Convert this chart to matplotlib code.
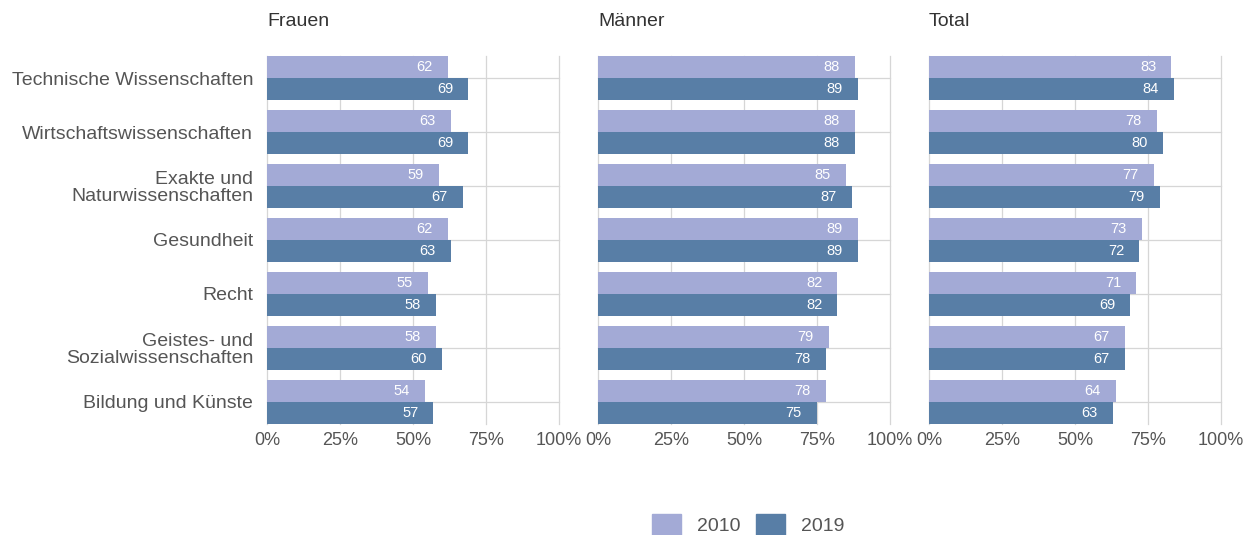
import matplotlib
matplotlib.use("Agg")
import matplotlib.pyplot as plt
from matplotlib.patches import Patch
import numpy as np

plt.rcParams['font.family'] = ['Liberation Sans', 'DejaVu Sans']

categories = ["Technische Wissenschaften", "Wirtschaftswissenschaften",
              "Exakte und\nNaturwissenschaften", "Gesundheit", "Recht",
              "Geistes- und\nSozialwissenschaften", "Bildung und Künste"]
panels = ["Frauen", "Männer", "Total"]
years = ["2010", "2019"]
frauen_2010 = [62, 63, 59, 62, 55, 58, 54]
frauen_2019 = [69, 69, 67, 63, 58, 60, 57]
maenner_2010 = [88, 88, 85, 89, 82, 79, 78]
maenner_2019 = [89, 88, 87, 89, 82, 78, 75]
total_2010 = [83, 78, 77, 73, 71, 67, 64]
total_2019 = [84, 80, 79, 72, 69, 67, 63]
xticks = [0, 25, 50, 75, 100]
xticklabels = ["0%", "25%", "50%", "75%", "100%"]

data = [(frauen_2010, frauen_2019), (maenner_2010, maenner_2019), (total_2010, total_2019)]
colors = ["#a3aad6", "#587ea6"]
grid_c = "#d6d6d6"
text_c = "#555555"

fig = plt.figure(figsize=(12.52, 5.35), dpi=100)
lefts = [267, 598, 929]
W, H = 1252, 535
h = 0.41
y = np.arange(len(categories))
for k, (name, (v10, v19)) in enumerate(zip(panels, data)):
    ax = fig.add_axes([lefts[k] / W, 1 - 424 / H, 292 / W, 368 / H])
    ax.set_xlim(0, 100)
    ax.set_ylim(len(categories) - 1 + h, -h)
    for xv in xticks:
        ax.axvline(xv, color=grid_c, lw=0.9, zorder=0, clip_on=False)
    for yv in y:
        ax.axhline(yv, color=grid_c, lw=0.9, zorder=0, clip_on=False)
    ax.barh(y - h / 2, v10, height=h - 0.01, color=colors[0], zorder=2)
    ax.barh(y + h / 2, v19, height=h - 0.01, color=colors[1], zorder=2)
    for yi, a, b in zip(y, v10, v19):
        ax.text(a - 5.2, yi - h / 2, str(a), color="white", ha="right", va="center", fontsize=10.5, zorder=3)
        ax.text(b - 5.2, yi + h / 2, str(b), color="white", ha="right", va="center", fontsize=10.5, zorder=3)
    for s in ax.spines.values():
        s.set_visible(False)
    ax.set_xticks(xticks)
    ax.set_xticklabels(xticklabels, fontsize=13, color=text_c)
    ax.tick_params(axis='both', length=0, pad=6)
    ax.set_yticks(y)
    if k == 0:
        ax.set_yticklabels(categories, fontsize=14, color=text_c, multialignment='right',
                           linespacing=1.0)
        ax.tick_params(axis='y', pad=10)
    else:
        ax.set_yticklabels([])
    fig.text(lefts[k] / W, 1 - 22 / H, name, fontsize=14, color="#333333", ha="left", va="center")

handles = [Patch(color=colors[0], label=years[0]), Patch(color=colors[1], label=years[1])]
fig.legend(handles=handles, loc="center", bbox_to_anchor=(748 / W, 1 - 525 / H), ncol=2,
           frameon=False, fontsize=14, handlelength=1.5, handleheight=1.4,
           handletextpad=0.82, columnspacing=0.77, labelcolor=text_c)

fig.savefig("out.png", dpi=100)
